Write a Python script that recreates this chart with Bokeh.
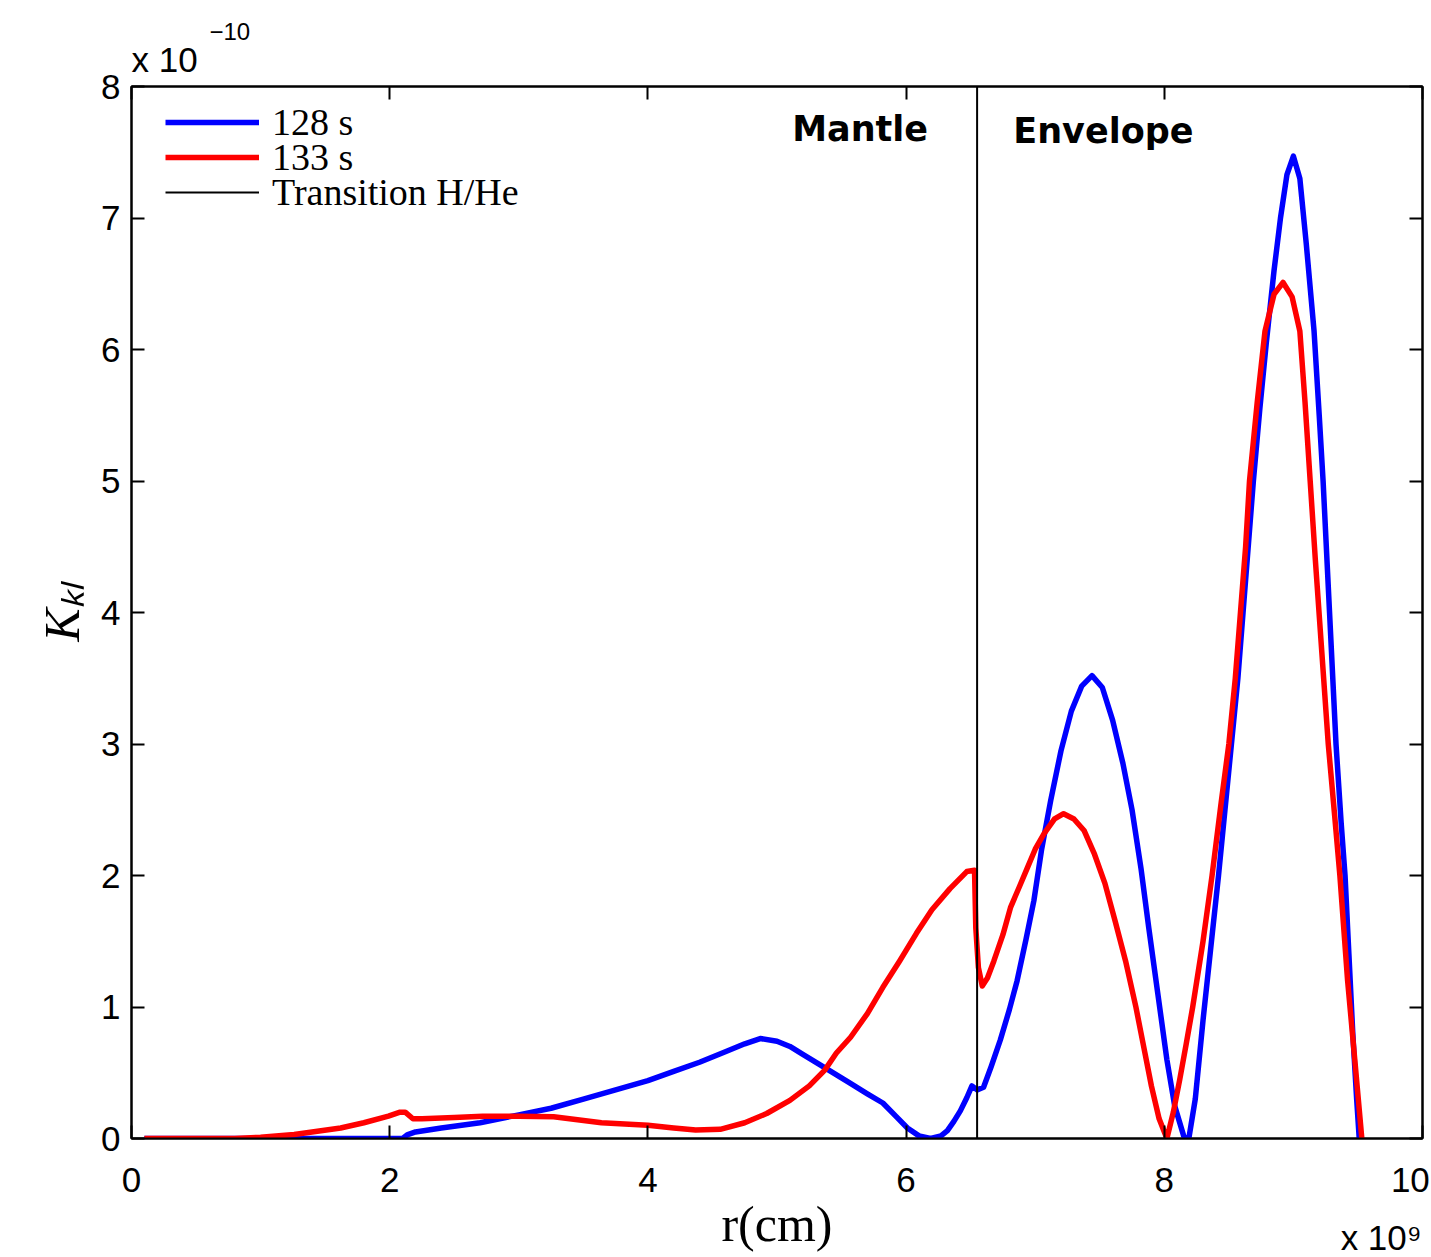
from bokeh.plotting import figure
from bokeh.models import (Range1d, LinearAxis, SingleIntervalTicker, Label, Title,
                          Legend, LegendItem)
from bokeh.embed import file_html
from bokeh.resources import INLINE

# ---------------- data (r in 1e9 cm, K_kl in 1e-10) ----------------
r_128 = [0.10, 1.00, 2.10, 2.14, 2.20, 2.40, 2.70, 3.00, 3.25, 3.50, 3.75, 4.00, 4.20, 4.40,
         4.60, 4.75, 4.87, 5.00, 5.10, 5.20, 5.35, 5.55, 5.70, 5.82, 5.92, 6.01, 6.10, 6.19,
         6.27, 6.32, 6.37, 6.42, 6.47, 6.51, 6.55, 6.60, 6.66, 6.73, 6.80, 6.86, 6.93, 6.99,
         7.05, 7.12, 7.20, 7.28, 7.36, 7.44, 7.52, 7.60, 7.68, 7.75, 7.82, 7.88, 7.95, 8.02,
         8.08, 8.15, 8.19, 8.24, 8.30, 8.36, 8.42, 8.47, 8.52, 8.57, 8.61, 8.65, 8.69, 8.74,
         8.79, 8.85, 8.90, 8.95, 9.00, 9.05, 9.10, 9.16, 9.20, 9.23, 9.28, 9.33, 9.37, 9.40,
         9.43, 9.46, 9.49, 9.51]
k_128 = [0.0, 0.0, 0.0, 0.03, 0.05, 0.08, 0.12, 0.18, 0.23, 0.30, 0.37, 0.44, 0.51, 0.58,
         0.66, 0.72, 0.76, 0.74, 0.70, 0.64, 0.55, 0.43, 0.34, 0.27, 0.17, 0.08, 0.02, 0.0,
         0.02, 0.06, 0.13, 0.21, 0.31, 0.40, 0.37, 0.39, 0.55, 0.75, 0.98, 1.20, 1.52, 1.81,
         2.20, 2.57, 2.95, 3.25, 3.44, 3.52, 3.43, 3.18, 2.85, 2.50, 2.05, 1.60, 1.10, 0.60,
         0.25, 0.02, 0.0, 0.30, 0.90, 1.45, 2.00, 2.50, 3.00, 3.50, 4.00, 4.50, 5.00, 5.55,
         6.05, 6.60, 7.00, 7.33, 7.47, 7.30, 6.80, 6.14, 5.50, 5.00, 4.00, 3.00, 2.40, 2.00,
         1.40, 0.80, 0.30, 0.0]

r_133 = [0.10, 0.80, 1.00, 1.26, 1.62, 1.80, 1.99, 2.08, 2.12, 2.18, 2.25, 2.50, 2.72, 3.00,
         3.27, 3.64, 4.00, 4.20, 4.37, 4.56, 4.75, 4.92, 5.10, 5.25, 5.37, 5.46, 5.57, 5.70,
         5.82, 5.95, 6.08, 6.20, 6.34, 6.47, 6.53, 6.54, 6.56, 6.59, 6.63, 6.68, 6.75, 6.81,
         6.88, 6.94, 7.00, 7.07, 7.15, 7.22, 7.30, 7.38, 7.46, 7.54, 7.62, 7.70, 7.78, 7.85,
         7.90, 7.96, 8.02, 8.07, 8.12, 8.17, 8.22, 8.30, 8.37, 8.44, 8.50, 8.55, 8.59, 8.63,
         8.66, 8.72, 8.78, 8.85, 8.92, 8.99, 9.05, 9.09, 9.13, 9.17, 9.22, 9.27, 9.32, 9.36,
         9.42, 9.48, 9.53]
k_133 = [0.0, 0.0, 0.01, 0.03, 0.08, 0.12, 0.17, 0.20, 0.20, 0.15, 0.15, 0.16, 0.17, 0.17,
         0.165, 0.12, 0.10, 0.08, 0.064, 0.07, 0.12, 0.19, 0.29, 0.40, 0.52, 0.65, 0.77, 0.95,
         1.15, 1.35, 1.56, 1.74, 1.90, 2.03, 2.04, 1.60, 1.30, 1.16, 1.22, 1.35, 1.55, 1.76,
         1.92, 2.06, 2.20, 2.32, 2.43, 2.47, 2.43, 2.34, 2.16, 1.94, 1.65, 1.35, 1.00, 0.65,
         0.40, 0.15, 0.0, 0.20, 0.45, 0.72, 1.00, 1.50, 2.00, 2.55, 3.00, 3.50, 4.00, 4.50,
         5.00, 5.60, 6.14, 6.42, 6.51, 6.40, 6.14, 5.60, 5.00, 4.40, 3.70, 3.00, 2.45, 2.00,
         1.20, 0.55, 0.0]

transition_r = 6.55
x_lim = [0, 10]
y_lim = [0, 8]
series_labels = ["128 s", "133 s", "Transition H/He"]
region_labels = ["Mantle", "Envelope"]
x_multiplier = "x 10\u2079"
y_multiplier_base = "x 10"
y_multiplier_exp = "\u221210"
x_ticks_interval = 2
y_ticks_interval = 1

NBSP = "\u00a0"

# ---------------- figure ----------------
p = figure(width=1431, height=1257, x_range=Range1d(*x_lim), y_range=Range1d(*y_lim),
           output_backend="svg", toolbar_location=None, title=None,
           min_border_left=131, min_border_right=9, min_border_top=86, min_border_bottom=119)
p.background_fill_color = "white"
p.border_fill_color = "white"
p.outline_line_color = "black"
p.outline_line_width = 2
p.xgrid.visible = False
p.ygrid.visible = False

tick_font = "Liberation Sans"
for ax in (p.xaxis[0], p.yaxis[0]):
    ax.axis_line_color = "black"
    ax.axis_line_width = 2
    ax.major_tick_in = 13
    ax.major_tick_out = 0
    ax.major_tick_line_width = 2
    ax.minor_tick_line_color = None
    ax.major_label_text_font = tick_font
    ax.major_label_text_font_size = "35px"
    ax.major_label_text_color = "black"
    ax.axis_label_text_color = "black"

xa = p.xaxis[0]
ya = p.yaxis[0]
xa.ticker = SingleIntervalTicker(interval=x_ticks_interval)
ya.ticker = SingleIntervalTicker(interval=y_ticks_interval)
xa.major_label_standoff = 17
ya.major_label_standoff = 7
# the power-of-ten multiplier sits under the last x tick
xa.major_label_overrides = {x_lim[1]: NBSP * 5 + "10\n" + x_multiplier + NBSP}
xa.major_label_text_line_height = 1.5
xa.axis_label = "r(cm)"
xa.axis_label_text_font = "Liberation Serif"
xa.axis_label_text_font_style = "normal"
xa.axis_label_text_font_size = "50px"
xa.axis_label_standoff = -64

ya.axis_label = "K\u2096\u2097"
ya.axis_label_text_font = "Liberation Serif"
ya.axis_label_text_font_style = "italic"
ya.axis_label_text_font_size = "50px"
ya.axis_label_standoff = 8

# mirrored axes (ticks only)
top = LinearAxis(ticker=SingleIntervalTicker(interval=x_ticks_interval))
right = LinearAxis(ticker=SingleIntervalTicker(interval=y_ticks_interval))
for ax in (top, right):
    ax.axis_line_color = "black"
    ax.axis_line_width = 2
    ax.major_tick_in = 13
    ax.major_tick_out = 0
    ax.major_tick_line_width = 2
    ax.minor_tick_line_color = None
    ax.major_label_text_font_size = "1px"
    ax.major_label_text_color = None
    ax.major_label_standoff = 0
p.add_layout(top, "above")
p.add_layout(right, "right")

# y multiplier: base, then exponent raised above it
p.add_layout(Title(text=y_multiplier_base, align="left", text_font=tick_font,
                   text_font_size="35px", text_font_style="normal", text_color="black",
                   standoff=7), "above")
p.add_layout(Title(text=y_multiplier_exp, align="left", offset=78, text_font=tick_font,
                   text_font_size="24px", text_font_style="normal", text_color="black",
                   standoff=-11), "above")

# ---------------- data lines ----------------
rb = p.line(r_128, k_128, line_color="#0000FF", line_width=5.5, line_join="round")
rr = p.line(r_133, k_133, line_color="#FF0000", line_width=5.5, line_join="round")
rk = p.line([transition_r, transition_r], y_lim, line_color="black", line_width=2)

# one legend box per entry so the rows can sit as close as in the original
legend_offsets = [994, 959, 924]
for lbl, rend, off in zip(series_labels, [rb, rr, rk], legend_offsets):
    lg = Legend(items=[LegendItem(label=lbl, renderers=[rend])], location=(34, off))
    lg.background_fill_alpha = 0
    lg.border_line_alpha = 0
    lg.padding = 0
    lg.margin = 0
    lg.label_height = 32
    lg.glyph_height = 32
    lg.glyph_width = 94
    lg.label_standoff = 13
    lg.label_text_font = "Liberation Serif"
    lg.label_text_font_size = "38px"
    lg.label_text_color = "black"
    p.add_layout(lg)

# region labels
p.add_layout(Label(x=6.17, y=7.68, text=region_labels[0], text_align="right",
                   text_baseline="middle", text_font="DejaVu Sans", text_font_style="bold",
                   text_font_size="35px", text_color="black"))
p.add_layout(Label(x=6.83, y=7.66, text=region_labels[1], text_align="left",
                   text_baseline="middle", text_font="DejaVu Sans", text_font_style="bold",
                   text_font_size="35px", text_color="black"))

open("out.html", "w").write(file_html(p, INLINE))
